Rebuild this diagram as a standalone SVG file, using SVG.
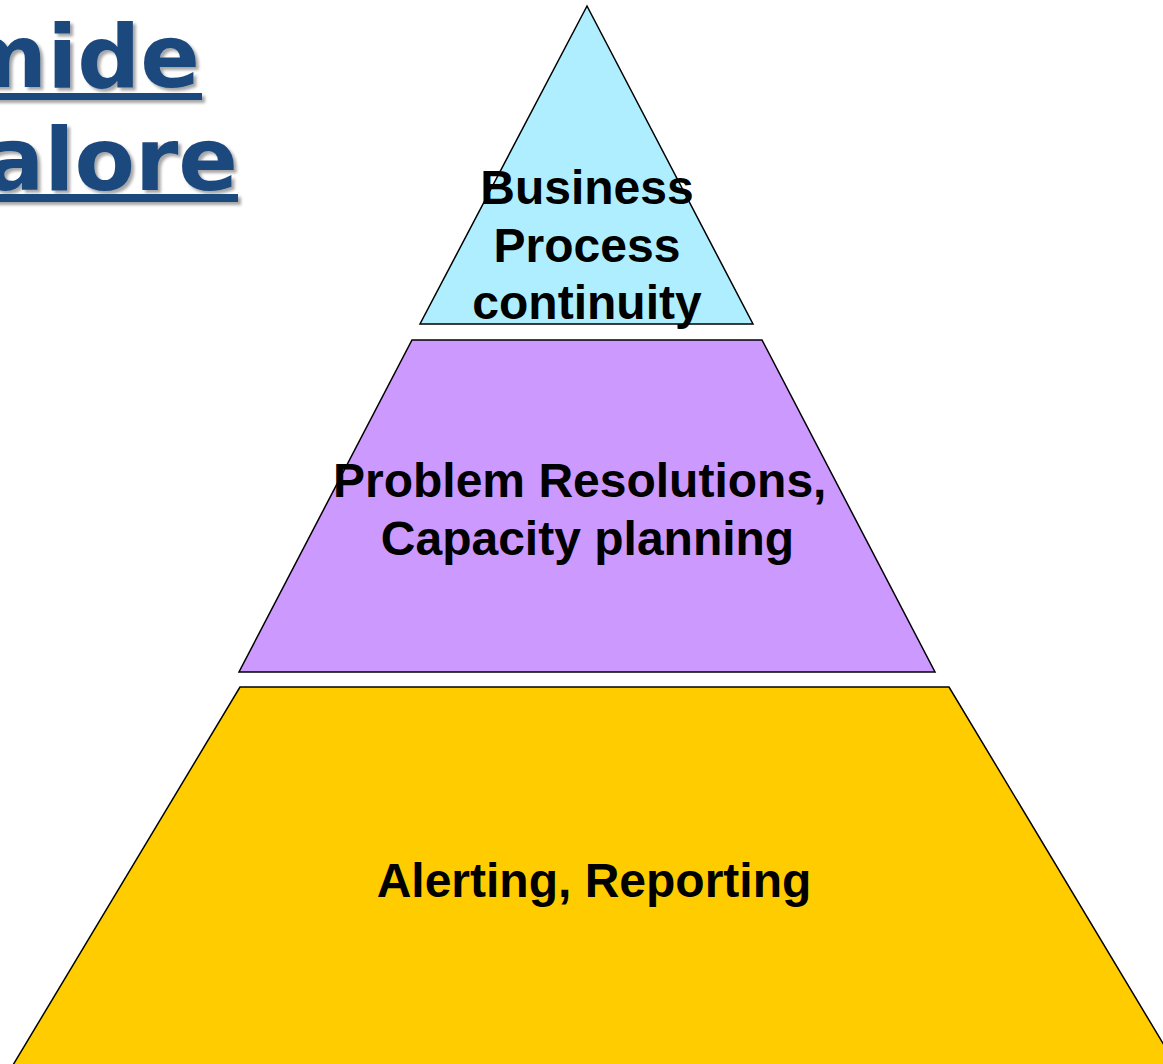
<svg xmlns="http://www.w3.org/2000/svg" width="1163" height="1064" viewBox="0 0 1163 1064">
<defs>
<style>
.layer{stroke:#000;stroke-width:1.5;stroke-linejoin:miter}
.lbl{font-family:"Liberation Sans",Arial,sans-serif;font-weight:bold;font-size:48px;fill:#000}
.title{font-family:"DejaVu Sans",Verdana,sans-serif;font-weight:bold;font-size:88px;fill:#1F497D}
</style>
<filter id="sh" x="-10%" y="-10%" width="130%" height="130%">
<feDropShadow dx="3" dy="3" stdDeviation="1.5" flood-color="#000" flood-opacity="0.35"/>
</filter>
</defs>
<rect width="1163" height="1064" fill="#fff"/>
<g id="title" filter="url(#sh)">
<text class="title" x="200" y="87" text-anchor="end">mide</text>
<rect x="-10" y="93" width="212" height="7" fill="#1F497D"/>
<text class="title" x="238" y="190" text-anchor="end">alore</text>
<rect x="-10" y="194" width="248" height="8" fill="#1F497D"/>
</g>
<g id="connectors"></g>
<g id="bottom">
<polygon class="layer" points="240,687 949,687 1179,1070 10,1070" fill="#FFCC00"/>
<text class="lbl" x="594" y="897" text-anchor="middle">Alerting, Reporting</text>
</g>
<g id="middle">
<polygon class="layer" points="412,340 762,340 935,672 239,672" fill="#CC99FF"/>
<text class="lbl" x="333" y="497">Problem Resolutions,</text>
<text class="lbl" x="587.5" y="555" text-anchor="middle">Capacity planning</text>
</g>
<g id="top">
<polygon class="layer" points="587,6 753,324 420,324" fill="#AEEEFF"/>
<text class="lbl" x="587" y="204" text-anchor="middle">Business</text>
<text class="lbl" x="587" y="262" text-anchor="middle">Process</text>
<text class="lbl" x="587" y="319" text-anchor="middle">continuity</text>
</g>
</svg>
